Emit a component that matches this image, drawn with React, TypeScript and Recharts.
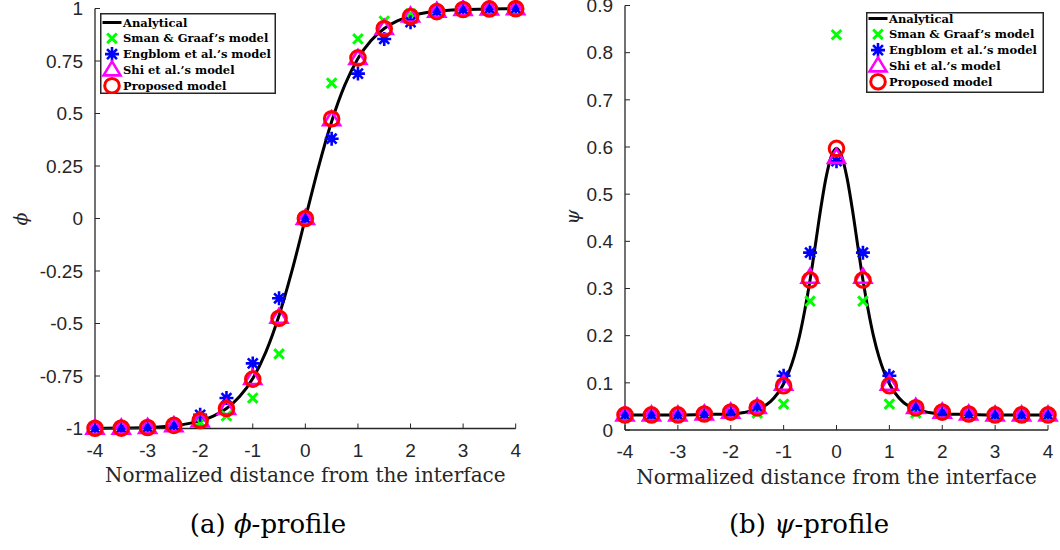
import { ComposedChart, Line, Scatter, XAxis, YAxis, Legend } from "recharts";

// sample positions of the markers
const xs = [-4, -3.5, -3, -2.5, -2, -1.5, -1, -0.5, 0, 0.5, 1, 1.5, 2, 2.5, 3, 3.5, 4];
const xTicks = [-4, -3, -2, -1, 0, 1, 2, 3, 4];
const phiTicks = [-1, -0.75, -0.5, -0.25, 0, 0.25, 0.5, 0.75, 1];
const psiTicks = [0, 0.1, 0.2, 0.3, 0.4, 0.5, 0.6, 0.7, 0.8, 0.9];

// analytical curves
const phiCurveX = [-4, -3.5, -3, -2.5, -2, -1.75, -1.5, -1.25, -1, -0.75, -0.5, -0.25, 0, 0.25, 0.5, 0.75, 1, 1.25, 1.5, 1.75, 2, 2.5, 3, 3.5, 4];
const phiCurve = [-0.999, -0.998, -0.995, -0.987, -0.964, -0.941, -0.905, -0.848, -0.762, -0.635, -0.462, -0.245, 0, 0.245, 0.462, 0.635, 0.762, 0.848, 0.905, 0.941, 0.964, 0.987, 0.995, 0.998, 0.999];

const psiCurveX = [-4, -3.5, -3, -2.5, -2, -1.75, -1.5, -1.25, -1, -0.9, -0.8, -0.7, -0.6, -0.5, -0.4, -0.3, -0.2, -0.1, 0, 0.1, 0.2, 0.3, 0.4, 0.5, 0.6, 0.7, 0.8, 0.9, 1, 1.25, 1.5, 1.75, 2, 2.5, 3, 3.5, 4];
const psiCurve = [0.032, 0.032, 0.032, 0.033, 0.034, 0.037, 0.044, 0.06, 0.098, 0.123, 0.156, 0.199, 0.254, 0.318, 0.392, 0.468, 0.534, 0.58, 0.597, 0.58, 0.534, 0.468, 0.392, 0.318, 0.254, 0.199, 0.156, 0.123, 0.098, 0.06, 0.044, 0.037, 0.034, 0.033, 0.032, 0.032, 0.032];

// phi profile markers
const phiSman = [-1, -0.999, -0.997, -0.99, -0.97, -0.94, -0.855, -0.645, 0, 0.645, 0.855, 0.94, 0.975, 0.99, 0.997, 0.999, 1];
const phiEngblom = [-1, -0.999, -0.995, -0.985, -0.935, -0.855, -0.69, -0.38, 0, 0.38, 0.69, 0.855, 0.935, 0.985, 0.995, 0.999, 1];
const phiShi = [-0.999, -0.998, -0.995, -0.987, -0.964, -0.905, -0.762, -0.47, 0, 0.47, 0.762, 0.905, 0.964, 0.987, 0.995, 0.998, 0.999];
const phiProposed = [-0.999, -0.998, -0.995, -0.985, -0.962, -0.905, -0.765, -0.475, 0, 0.475, 0.765, 0.905, 0.962, 0.985, 0.995, 0.998, 0.999];

// psi profile markers
const psiSman = [0.032, 0.032, 0.032, 0.033, 0.034, 0.036, 0.055, 0.273, 0.838, 0.273, 0.055, 0.036, 0.034, 0.033, 0.032, 0.032, 0.032];
const psiEngblom = [0.032, 0.032, 0.032, 0.033, 0.037, 0.05, 0.115, 0.376, 0.57, 0.376, 0.115, 0.05, 0.037, 0.033, 0.032, 0.032, 0.032];
const psiShi = [0.032, 0.032, 0.032, 0.034, 0.038, 0.048, 0.097, 0.324, 0.578, 0.324, 0.097, 0.048, 0.038, 0.034, 0.032, 0.032, 0.032];
const psiProposed = [0.032, 0.032, 0.032, 0.034, 0.038, 0.047, 0.094, 0.318, 0.597, 0.318, 0.094, 0.047, 0.038, 0.034, 0.032, 0.032, 0.032];

const seriesNames = ["Analytical", "Sman & Graaf\u2019s model", "Engblom et al.\u2019s model", "Shi et al.\u2019s model", "Proposed model"];
const markerKinds = ["line", "x", "star", "tri", "circle"];

const AXIS = "#262626";

function Marker({ kind, cx, cy }: any) {
  if (cx == null || cy == null) return <g />;
  if (kind === "line") {
    return <line x1={cx - 9.5} x2={cx + 9.5} y1={cy} y2={cy} stroke="#000" strokeWidth={3} />;
  }
  if (kind === "x") {
    const r = 4.8;
    return (
      <path
        d={`M${cx - r},${cy - r}L${cx + r},${cy + r}M${cx - r},${cy + r}L${cx + r},${cy - r}`}
        stroke="#00ff00"
        strokeWidth={3}
        fill="none"
      />
    );
  }
  if (kind === "star") {
    const r = 7;
    const d = r * 0.707;
    return (
      <path
        d={`M${cx - r},${cy}L${cx + r},${cy}M${cx},${cy - r}L${cx},${cy + r}M${cx - d},${cy - d}L${cx + d},${cy + d}M${cx - d},${cy + d}L${cx + d},${cy - d}`}
        stroke="#0000ff"
        strokeWidth={2.6}
        fill="none"
      />
    );
  }
  if (kind === "tri") {
    return (
      <polygon
        points={`${cx},${cy - 8.5} ${cx + 8.5},${cy + 5.5} ${cx - 8.5},${cy + 5.5}`}
        stroke="#ff00ff"
        strokeWidth={2.6}
        fill="none"
        strokeLinejoin="miter"
      />
    );
  }
  return <circle cx={cx} cy={cy} r={7.3} stroke="#ff0000" strokeWidth={3} fill="none" />;
}

function LegendBox({ width, height, firstRow }: any) {
  return (
    <svg width={width} height={height} style={{ display: "block" }}>
      <rect x={0.75} y={0.75} width={width - 1.5} height={height - 1.5} fill="#fff" stroke={AXIS} strokeWidth={1.5} />
      {seriesNames.map((name, i) => {
        const cy = firstRow + i * 15.8;
        return (
          <g key={name}>
            <Marker kind={markerKinds[i]} cx={12} cy={cy} />
            <text
              x={23}
              y={cy}
              dy="0.36em"
              fontFamily="DejaVu Serif"
              fontWeight="bold"
              fontSize={11.5}
              fill="#000"
            >
              {name}
            </text>
          </g>
        );
      })}
    </svg>
  );
}

function pts(values: number[]) {
  return xs.map((x, i) => ({ x, y: values[i] }));
}

function curvePts(cx: number[], cy: number[]) {
  return cx.map((x, i) => ({ x, y: cy[i] }));
}

const tickStyle = { fill: AXIS, fontSize: 19, fontFamily: "Liberation Sans" };

function Panel({ left, curve, markers, yDomain, yTicks, margin, xHeight, yLabel, yLabelX, yLabelY, legend }: any) {
  const shapes = ["x", "star", "tri", "circle"];
  return (
    <div style={{ position: "absolute", left, top: 0 }}>
      <ComposedChart width={530} height={550} margin={margin}>
        <XAxis
          dataKey="x"
          type="number"
          domain={[-4, 4]}
          ticks={xTicks}
          interval={0}
          height={xHeight}
          tickSize={-5}
          tickMargin={20}
          tick={tickStyle}
          axisLine={{ stroke: AXIS, strokeWidth: 1.3 }}
          tickLine={{ stroke: AXIS }}
          label={{
            value: "Normalized distance from the interface",
            position: "insideBottom",
            offset: xHeight - 53.5,
            style: { fontFamily: "DejaVu Serif", fontSize: 20, fill: AXIS },
          }}
        />
        <XAxis
          xAxisId="top"
          orientation="top"
          type="number"
          domain={[-4, 4]}
          ticks={xTicks}
          interval={0}
          height={0}
          tickSize={-5}
          tick={() => <g />}
          axisLine={{ stroke: AXIS, strokeWidth: 1.3 }}
          tickLine={{ stroke: AXIS }}
        />
        <YAxis
          dataKey="y"
          type="number"
          domain={yDomain}
          ticks={yTicks}
          interval={0}
          width={95}
          tickSize={-5}
          tickMargin={17}
          tick={tickStyle}
          axisLine={{ stroke: AXIS, strokeWidth: 1.3 }}
          tickLine={{ stroke: AXIS }}
          label={{
            content: () => (
              <text
                x={yLabelX}
                y={yLabelY}
                transform={`rotate(-90 ${yLabelX} ${yLabelY})`}
                textAnchor="middle"
                dy="0.35em"
                fontFamily="DejaVu Serif"
                fontStyle="italic"
                fontSize={19}
                fill={AXIS}
              >
                {yLabel}
              </text>
            ),
          }}
        />
        <YAxis
          yAxisId="right"
          orientation="right"
          type="number"
          domain={yDomain}
          ticks={yTicks}
          interval={0}
          width={0}
          tickSize={-5}
          tick={() => <g />}
          axisLine={{ stroke: AXIS, strokeWidth: 1.3 }}
          tickLine={{ stroke: AXIS }}
        />
        <Line
          data={curve}
          dataKey="y"
          type="monotone"
          stroke="#000"
          strokeWidth={3}
          dot={false}
          activeDot={false}
          isAnimationActive={false}
        />
        {markers.map((m: any, i: number) => (
          <Scatter
            key={i}
            data={m}
            dataKey="y"
            isAnimationActive={false}
            shape={(p: any) => <Marker kind={shapes[i]} cx={p.cx} cy={p.cy} />}
          />
        ))}
        <Legend
          layout="horizontal"
          verticalAlign="middle"
          align="center"
          wrapperStyle={{ left: legend.x, top: legend.y, width: legend.w, height: legend.h }}
          content={() => <LegendBox width={legend.w} height={legend.h} firstRow={legend.first} />}
        />
      </ComposedChart>
    </div>
  );
}

export default function App() {
  return (
    <div style={{ position: "absolute", left: 0, top: 0, width: 1060, height: 550, background: "#fff" }}>
      <Panel
        left={0}
        curve={curvePts(phiCurveX, phiCurve)}
        markers={[pts(phiSman), pts(phiEngblom), pts(phiShi), pts(phiProposed)]}
        yDomain={[-1, 1]}
        yTicks={phiTicks}
        margin={{ top: 8.5, right: 14.3, left: 0, bottom: 0 }}
        xHeight={121.5}
        yLabel={"\u03d5"}
        yLabelX={20}
        yLabelY={219}
        legend={{ x: 100, y: 13, w: 176, h: 81, first: 9.5 }}
      />
      <Panel
        left={530}
        curve={curvePts(psiCurveX, psiCurve)}
        markers={[pts(psiSman), pts(psiEngblom), pts(psiShi), pts(psiProposed)]}
        yDomain={[0, 0.9]}
        yTicks={psiTicks}
        margin={{ top: 5.5, right: 12, left: 0, bottom: 0 }}
        xHeight={120}
        yLabel={"\u03c8"}
        yLabelX={42}
        yLabelY={217}
        legend={{ x: 336, y: 12, w: 178, h: 81, first: 6.5 }}
      />
      <svg width={1060} height={550} style={{ position: "absolute", left: 0, top: 0, pointerEvents: "none" }}>
        <text x={268} y={533} textAnchor="middle" fontFamily="DejaVu Serif" fontSize={26} fill="#000">
          (a) <tspan fontStyle="italic">{"\u03d5"}</tspan>-profile
        </text>
        <text x={809} y={533} textAnchor="middle" fontFamily="DejaVu Serif" fontSize={26} fill="#000">
          (b) <tspan fontStyle="italic">{"\u03c8"}</tspan>-profile
        </text>
      </svg>
    </div>
  );
}
